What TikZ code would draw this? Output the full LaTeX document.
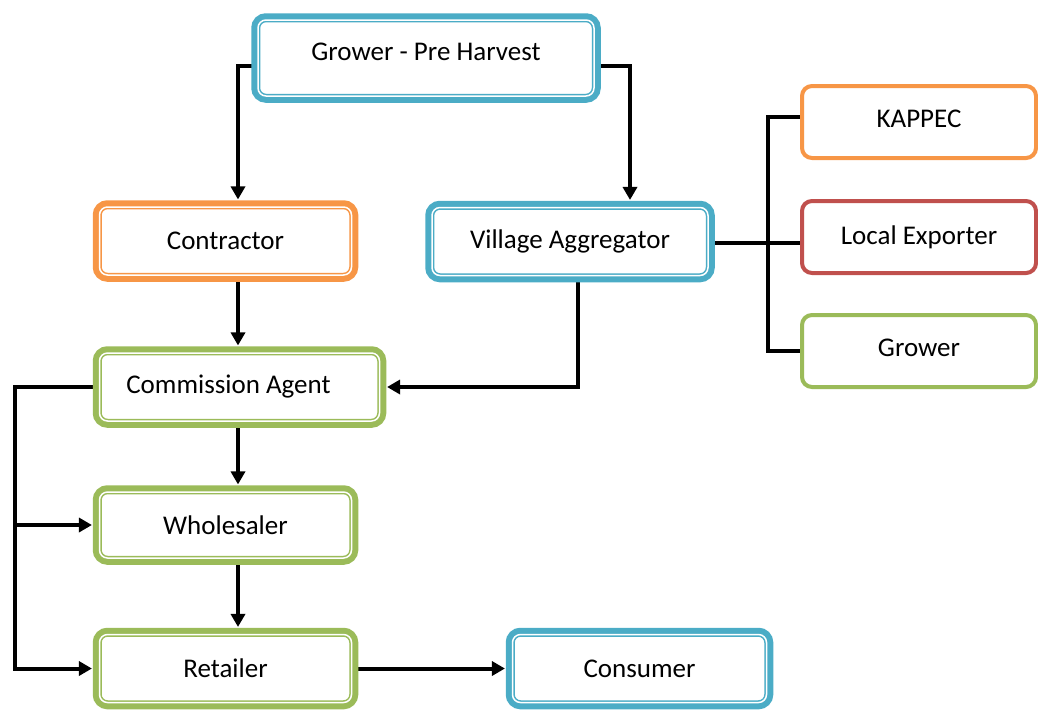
\documentclass[tikz,border=0pt]{standalone}
\usepackage{fontspec}
\setmainfont{Carlito}
\usetikzlibrary{arrows.meta,positioning,backgrounds}

\definecolor{boxblue}{RGB}{75,172,198}
\definecolor{boxorange}{RGB}{247,150,70}
\definecolor{boxred}{RGB}{192,80,77}
\definecolor{boxgreen}{RGB}{155,187,89}

\begin{document}
\begin{tikzpicture}[
    x=0.5pt, y=-0.5pt,
    font=\fontsize{13.5}{16}\selectfont,
    dblbox/.style={rectangle, rounded corners=4pt, fill=white, draw=#1,
        line width=0.75pt, double=white, double distance=0.75pt,
        preaction={draw=#1, line width=6.75pt}, inner sep=0pt},
    plainbox/.style={rectangle, rounded corners=5pt, fill=white, draw=#1,
        line width=2pt, inner sep=0pt, minimum width=117pt, minimum height=36pt},
    arrow/.style={-{Triangle[length=6.5pt,width=7pt]}, line width=2pt, shorten >=3.4pt},
    link/.style={line width=2pt}
]
\useasboundingbox (0,0) rectangle (1038,709);

% Main chain
\node[dblbox=boxblue, minimum width=168pt, minimum height=38pt, text depth=6pt] (pre) at (426,58) {Grower - Pre Harvest};
\node[dblbox=boxorange, minimum width=126pt, minimum height=34pt] (contractor) at (225.5,241) {Contractor};
\node[dblbox=boxblue, minimum width=138pt, minimum height=34pt] (village) at (570,241.5) {Village Aggregator};
\node[dblbox=boxgreen, minimum width=140pt, minimum height=34pt] (commission) at (239.5,387) {Commission Agent\kern11pt};
\node[dblbox=boxgreen, minimum width=126pt, minimum height=33pt] (wholesaler) at (225.5,525) {Wholesaler};
\node[dblbox=boxgreen, minimum width=126pt, minimum height=34pt] (retailer) at (225.5,668.5) {Retailer};
\node[dblbox=boxblue, minimum width=127pt, minimum height=34pt] (consumer) at (639.5,668.5) {Consumer};

% Buyers of the aggregator
\node[plainbox=boxorange, text depth=3pt] (kappec) at (919,122) {KAPPEC};
\node[plainbox=boxred] (exporter) at (919,237) {Local Exporter};
\node[plainbox=boxgreen, text depth=3pt] (grower) at (919,351) {Grower};

\coordinate (bus) at (768,240);
\coordinate (loop) at (15,525);

% Edges
\begin{scope}[on background layer]
\draw[arrow] ([yshift=-4pt]pre.west) -| ([xshift=6.25pt]contractor.north);
\draw[arrow] ([yshift=-4pt]pre.east) -| ([xshift=30pt]village.north);
\draw[arrow] ([xshift=6.25pt]contractor.south) -- ([xshift=6.25pt]contractor.south |- commission.north);
\draw[arrow] ([xshift=4pt]village.south) |- (commission.east);
\draw[arrow] ([xshift=-0.75pt]commission.south) -- ([xshift=-0.75pt]commission.south |- wholesaler.north);
\draw[arrow] ([xshift=6.25pt]wholesaler.south) -- ([xshift=6.25pt]wholesaler.south |- retailer.north);
\draw[arrow] (commission.west) -| (loop) |- (retailer.west);
\draw[arrow] (loop) -- (wholesaler.west);
\draw[arrow] (retailer.east) -- (consumer.west);
\draw[link] ([yshift=-0.75pt]village.east) -- ([yshift=-0.75pt]village.east -| exporter.west);
\draw[link] ([yshift=2.5pt]kappec.west) -| (bus) |- (grower.west);
\end{scope}
\end{tikzpicture}
\end{document}
